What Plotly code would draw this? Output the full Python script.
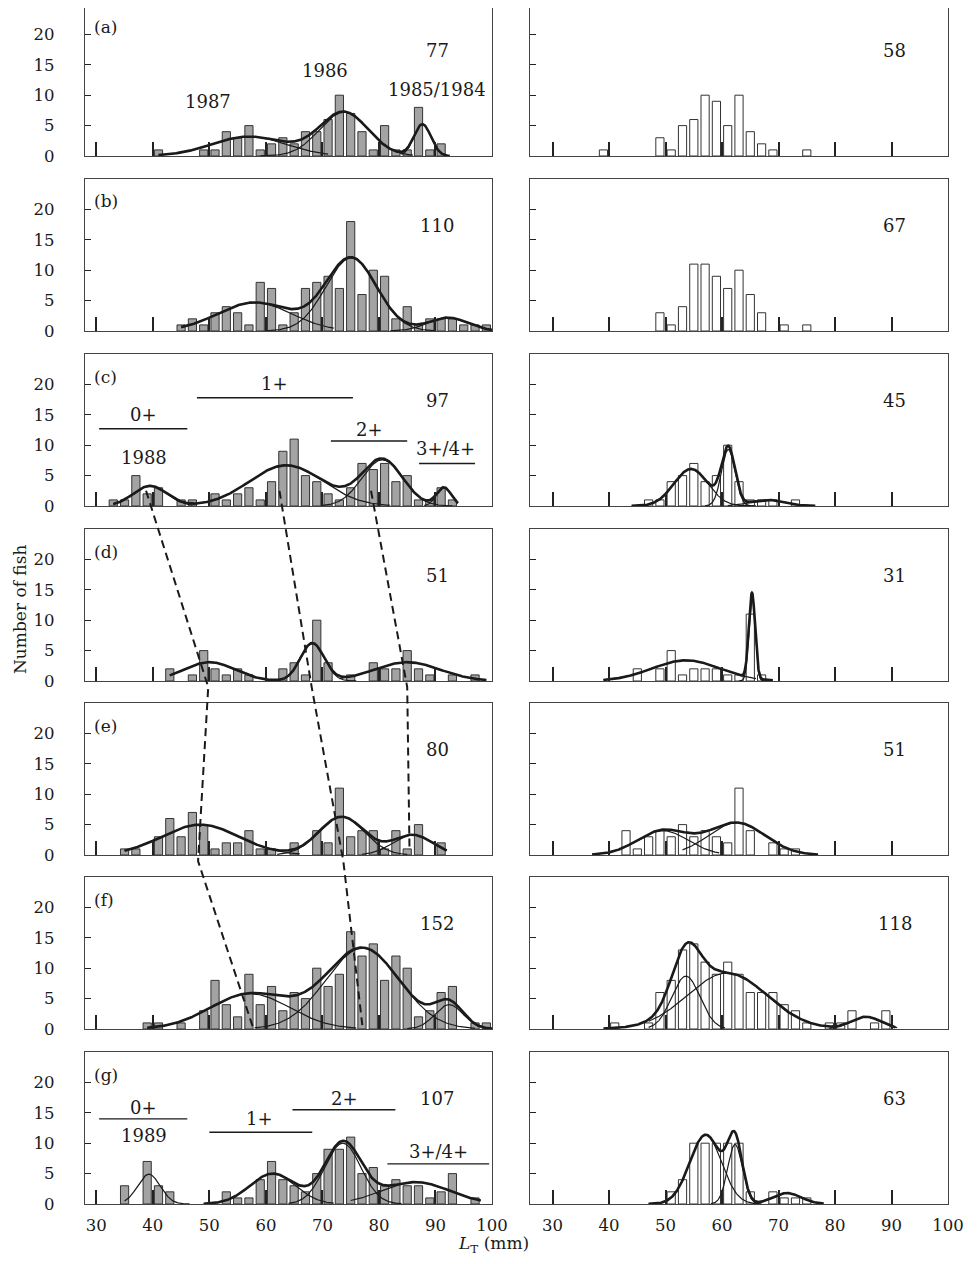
import numpy as np
import plotly.graph_objects as go

# page: the browser adds an 8px body margin, so the figure is sized to fit 980x1264
PAGE_W, PAGE_H, PAGE_PAD = 980, 1264, 8
W, H = PAGE_W - PAGE_PAD, PAGE_H - PAGE_PAD

# ---------------- data ----------------
BINS = [33, 35, 37, 39, 41, 43, 45, 47, 49, 51, 53, 55, 57, 59, 61, 63, 65,
        67, 69, 71, 73, 75, 77, 79, 81, 83, 85, 87, 89, 91, 93, 95, 97, 99]

# left column (grey bars)
cnt_a_L = [0, 0, 0, 0, 1, 0, 0, 0, 1, 1, 4, 3, 5, 1, 2, 3, 2, 4, 4, 6, 10, 7, 4, 1, 5, 1, 1, 8, 1, 2, 0, 0, 0, 0]
cnt_b_L = [0, 0, 0, 0, 0, 0, 1, 2, 1, 3, 4, 3, 1, 8, 7, 1, 3, 7, 8, 9, 7, 18, 6, 10, 9, 2, 4, 1, 2, 2, 2, 1, 1, 1]
cnt_c_L = [1, 1, 5, 2, 3, 0, 1, 1, 0, 2, 1, 2, 3, 1, 4, 9, 11, 5, 4, 2, 1, 3, 7, 6, 7, 4, 5, 1, 1, 3, 1, 0, 0, 0]
cnt_d_L = [0, 0, 0, 0, 0, 2, 0, 1, 5, 2, 1, 2, 1, 0, 0, 2, 3, 1, 10, 3, 0, 1, 0, 3, 2, 2, 5, 2, 1, 0, 1, 0, 1, 0]
cnt_e_L = [0, 1, 1, 0, 3, 6, 3, 7, 5, 1, 2, 2, 4, 1, 1, 0, 2, 0, 4, 2, 11, 3, 4, 4, 1, 4, 1, 5, 0, 2, 0, 0, 0, 0]
cnt_f_L = [0, 0, 0, 1, 1, 0, 1, 0, 3, 8, 4, 2, 9, 4, 7, 3, 6, 5, 10, 7, 9, 16, 12, 14, 8, 12, 10, 2, 3, 6, 7, 0, 1, 1]
cnt_g_L = [0, 3, 0, 7, 3, 2, 0, 0, 0, 0, 2, 1, 1, 4, 7, 4, 3, 2, 5, 9, 9, 11, 5, 6, 3, 4, 3, 3, 1, 2, 5, 0, 1, 0]

# right column (white bars)
cnt_a_R = [0, 0, 0, 1, 0, 0, 0, 0, 3, 1, 5, 6, 10, 9, 5, 10, 4, 2, 1, 0, 0, 1, 0, 0, 0, 0, 0, 0, 0, 0, 0, 0, 0, 0]
cnt_b_R = [0, 0, 0, 0, 0, 0, 0, 0, 3, 1, 4, 11, 11, 9, 7, 10, 6, 3, 0, 1, 0, 1, 0, 0, 0, 0, 0, 0, 0, 0, 0, 0, 0, 0]
cnt_c_R = [0, 0, 0, 0, 0, 0, 0, 1, 1, 4, 5, 7, 4, 5, 10, 4, 1, 1, 1, 0, 1, 0, 0, 0, 0, 0, 0, 0, 0, 0, 0, 0, 0, 0]
cnt_d_R = [0, 0, 0, 0, 0, 0, 2, 0, 2, 5, 1, 2, 2, 2, 1, 1, 11, 1, 0, 0, 0, 0, 0, 0, 0, 0, 0, 0, 0, 0, 0, 0, 0, 0]
cnt_e_R = [0, 0, 0, 0, 0, 4, 1, 3, 4, 3, 5, 3, 4, 3, 2, 11, 4, 0, 2, 1, 1, 0, 0, 0, 0, 0, 0, 0, 0, 0, 0, 0, 0, 0]
cnt_f_R = [0, 0, 0, 0, 1, 0, 0, 1, 6, 8, 13, 14, 11, 9, 11, 9, 6, 6, 6, 4, 3, 1, 0, 1, 1, 3, 0, 1, 3, 0, 0, 0, 0, 0]
cnt_g_R = [0, 0, 0, 0, 0, 0, 0, 0, 0, 2, 4, 10, 10, 10, 10, 10, 2, 0, 2, 1, 1, 1, 0, 0, 0, 0, 0, 0, 0, 0, 0, 0, 0, 0]

# fitted normal components: (mean mm, sd mm, peak count, drawn from, drawn to)
fit_a_L = [(57.0, 6.5, 3.2, 42, 71), (73.8, 4.3, 7.2, 59, 86), (87.7, 1.5, 5.2, 84, 92.5)]
fit_b_L = [(58.0, 6.5, 4.7, 45, 72), (75.1, 4.5, 12.0, 60, 90), (92.2, 3.5, 2.2, 82, 100)]
fit_c_L = [(39.5, 3.0, 3.3, 33, 47), (63.6, 6.5, 6.7, 47, 82), (80.6, 3.6, 7.6, 70, 93), (91.5, 1.3, 3.0, 88, 94)]
fit_d_L = [(50.0, 4.5, 3.1, 43, 60), (68.2, 2.1, 6.2, 61, 76), (85.0, 5.8, 3.1, 73, 99)]
fit_e_L = [(48.4, 6.8, 5.0, 35, 66), (73.4, 4.0, 6.3, 62, 85), (86.0, 3.5, 3.3, 77, 92)]
fit_f_L = [(57.2, 7.0, 5.8, 40, 76), (77.1, 6.5, 13.3, 58, 97), (92.4, 2.5, 4.0, 85, 100)]
fit_g_L = [(39.3, 2.0, 4.9, 35, 46.5), (61.2, 4.0, 5.0, 49, 72), (73.6, 3.2, 10.0, 64, 84), (86.5, 6.0, 3.6, 75, 98)]
fit_c_R = [(54.5, 3.0, 6.1, 44, 66), (61.1, 1.2, 9.3, 57, 66), (68.0, 3.0, 1.0, 61, 76)]
fit_d_R = [(53.6, 6.0, 3.4, 39, 66), (65.3, 0.55, 14.0, 63, 69)]
fit_e_R = [(49.5, 4.5, 4.0, 37, 59.5), (62.6, 5.0, 5.3, 53, 77)]
fit_f_R = [(53.6, 2.5, 8.7, 47, 60.5), (60.9, 7.0, 9.2, 47, 80), (85.5, 2.6, 2.0, 79, 91)]
fit_g_R = [(57.1, 2.8, 11.4, 47, 67), (62.3, 1.3, 9.8, 58, 66), (71.5, 2.5, 1.8, 66, 77)]

# extent of the summed (mixture) curve
tot_a_L = (41, 92.5)
tot_b_L = (45, 100)
tot_c_L = (33, 94)
tot_d_L = (43, 99)
tot_e_L = (35, 92)
tot_f_L = (39, 100)
tot_g_L = (49, 98)
tot_c_R = (44, 76.5)
tot_d_R = (39, 69)
tot_e_R = (37, 77)
tot_f_R = (39, 90.7)
tot_g_R = (47, 78)

N_LEFT = ["77", "110", "97", "51", "80", "152", "107"]
N_RIGHT = ["58", "67", "45", "31", "51", "118", "63"]
PANEL_LETTERS = ["(a)", "(b)", "(c)", "(d)", "(e)", "(f)", "(g)"]
X_TICKS = [30, 40, 50, 60, 70, 80, 90, 100]
Y_TICKS = [0, 5, 10, 15, 20]

LEFT_COUNTS = [cnt_a_L, cnt_b_L, cnt_c_L, cnt_d_L, cnt_e_L, cnt_f_L, cnt_g_L]
RIGHT_COUNTS = [cnt_a_R, cnt_b_R, cnt_c_R, cnt_d_R, cnt_e_R, cnt_f_R, cnt_g_R]
LEFT_FITS = [(fit_a_L, tot_a_L), (fit_b_L, tot_b_L), (fit_c_L, tot_c_L), (fit_d_L, tot_d_L),
             (fit_e_L, tot_e_L), (fit_f_L, tot_f_L), (fit_g_L, tot_g_L)]
RIGHT_FITS = [None, None, (fit_c_R, tot_c_R), (fit_d_R, tot_d_R), (fit_e_R, tot_e_R),
              (fit_f_R, tot_f_R), (fit_g_R, tot_g_R)]

# ---------------- layout geometry (page pixels) ----------------
ROW_PX = [(4, 156), (179, 331), (354, 506), (529, 681), (703, 855), (877, 1029), (1052, 1204)]
COL_PX = [(85, 492), (530, 948)]
X_RANGE = [[28, 100], [26, 100]]
Y_FULL = 25.0

SERIF = "DejaVu Serif"
INK = "#1a1a1a"
ANN_SIZE = 18


def fx(px):
    return (px - PAGE_PAD) / W


def fy(py):
    return 1 - (py - PAGE_PAD) / H


def row_geom(r):
    """Visible top/bottom in page px and y-range keeping the same px-per-count."""
    top, bot = ROW_PX[r]
    vis_top = max(top, PAGE_PAD)
    ymax = Y_FULL * (bot - vis_top) / (bot - top)
    return vis_top, bot, ymax


fig = go.Figure()
layout = dict(width=W, height=H, margin=dict(l=0, r=0, t=0, b=0, autoexpand=False),
              paper_bgcolor="white", plot_bgcolor="white", showlegend=False,
              hovermode=False, font=dict(family=SERIF, size=16, color=INK))


def suffix(k):
    return "" if k == 1 else str(k)


def gauss(x, m, s, a):
    return a * np.exp(-0.5 * ((x - m) / s) ** 2)


for r in range(7):
    vtop, bot, ymax = row_geom(r)
    for c in range(2):
        k = r * 2 + c + 1
        sx = suffix(k)
        x0, x1 = COL_PX[c]
        layout["xaxis" + sx] = dict(
            domain=[fx(x0), fx(x1)], range=X_RANGE[c], anchor="y" + sx, automargin=False,
            tickvals=X_TICKS, showticklabels=(r == 6), ticks="inside", ticklen=14,
            tickwidth=1.5, tickcolor="#222", showline=True, mirror=True,
            linecolor="#444", linewidth=1.2, showgrid=False, zeroline=False,
            tickfont=dict(family=SERIF, size=16.5, color=INK), ticklabelstandoff=6)
        layout["yaxis" + sx] = dict(
            domain=[fy(bot), min(1.0, fy(vtop))], range=[0, ymax], anchor="x" + sx,
            automargin=False,
            tickvals=Y_TICKS, showticklabels=(c == 0), ticks="inside", ticklen=6,
            tickwidth=1.2, tickcolor="#222", showline=True, mirror=True,
            linecolor="#444", linewidth=1.2, showgrid=False, zeroline=False,
            tickfont=dict(family=SERIF, size=16.5, color=INK), ticklabelstandoff=26)

        counts = LEFT_COUNTS[r] if c == 0 else RIGHT_COUNTS[r]
        bx = [b for b, v in zip(BINS, counts) if v > 0]
        by = [v for v in counts if v > 0]
        fig.add_trace(go.Bar(
            x=bx, y=by, width=1.45, xaxis="x" + sx, yaxis="y" + sx,
            marker=dict(color="#a3a3a3" if c == 0 else "white",
                        line=dict(color="#333", width=1))))

        fits = LEFT_FITS[r] if c == 0 else RIGHT_FITS[r]
        if fits is None:
            continue
        comps, tot = fits
        for (m, s, a, lo, hi) in comps:
            xs = np.linspace(lo, hi, 300)
            fig.add_trace(go.Scatter(x=xs, y=gauss(xs, m, s, a), mode="lines",
                                     xaxis="x" + sx, yaxis="y" + sx,
                                     line=dict(color=INK, width=1.2)))
        xs = np.linspace(tot[0], tot[1], 600)
        ys = sum(gauss(xs, m, s, a) for (m, s, a, lo, hi) in comps)
        fig.add_trace(go.Scatter(x=xs, y=ys, mode="lines", xaxis="x" + sx, yaxis="y" + sx,
                                 line=dict(color=INK, width=2.6)))

annotations = []
shapes = []


def txt(k, x, y, text, size=ANN_SIZE, xanchor="center"):
    sx = suffix(k)
    annotations.append(dict(xref="x" + sx, yref="y" + sx, x=x, y=y, text=text,
                            showarrow=False, xanchor=xanchor, yanchor="middle",
                            font=dict(family=SERIF, size=size, color=INK)))


def hline(k, xa, xb, y):
    sx = suffix(k)
    shapes.append(dict(type="line", xref="x" + sx, yref="y" + sx, x0=xa, x1=xb, y0=y, y1=y,
                       line=dict(color=INK, width=1.4)))


for r in range(7):
    kL = r * 2 + 1
    kR = r * 2 + 2
    txt(kL, 29.3, 21.3, PANEL_LETTERS[r], size=17, xanchor="left")
    txt(kL, 90.3, 17.3, N_LEFT[r])
    txt(kR, 90.6, 17.3, N_RIGHT[r])

# panel (a) cohort labels
txt(1, 49.8, 8.9, "1987")
txt(1, 70.4, 14.1, "1986")
txt(1, 90.3, 10.9, "1985/1984")

# panel (c) age-class labels
kc = 5
txt(kc, 38.3, 15.0, "0+")
hline(kc, 30.5, 46.1, 12.7)
txt(kc, 38.4, 7.9, "1988")
txt(kc, 61.6, 20.2, "1+")
hline(kc, 47.8, 75.4, 17.8)
txt(kc, 78.3, 12.6, "2+")
hline(kc, 71.5, 85.0, 10.7)
txt(kc, 91.8, 9.4, "3+/4+")
hline(kc, 87.1, 97.0, 7.0)

# panel (g) age-class labels
kg = 13
txt(kg, 38.3, 15.9, "0+")
hline(kg, 30.5, 46.1, 14.0)
txt(kg, 38.4, 11.3, "1989")
txt(kg, 58.9, 14.0, "1+")
hline(kg, 50.0, 68.2, 11.8)
txt(kg, 73.9, 17.4, "2+")
hline(kg, 64.7, 82.9, 15.5)
txt(kg, 90.6, 8.6, "3+/4+")
hline(kg, 81.5, 99.5, 6.6)

# dashed cohort-tracking lines: (row index, length mm, count level)
track_0 = [(2, 38.8, 2.5), (3, 49.8, -1.0), (4, 48.0, -1.0), (5, 57.7, 0.3)]
track_1 = [(2, 62.4, 2.5), (3, 68.1, -1.0), (4, 73.7, -1.0), (5, 77.1, 0.3)]
track_2 = [(2, 78.6, 2.5), (3, 85.0, -1.0), (4, 85.4, 1.3)]


def paper_y(row, val):
    top, bot = ROW_PX[row]
    return fy(bot - val / Y_FULL * (bot - top))


for tr in [track_0, track_1, track_2]:
    pts = [f"{x},{paper_y(row, v):.5f}" for (row, x, v) in tr]
    path = "M " + " L ".join(pts)
    shapes.append(dict(type="path", xref="x", yref="paper", path=path,
                       line=dict(color=INK, width=2, dash="8px,5px")))

# axis titles
annotations.append(dict(xref="paper", yref="paper", x=fx(20), y=fy(610),
                        text="Number of fish", textangle=-90, showarrow=False,
                        xanchor="center", yanchor="middle",
                        font=dict(family=SERIF, size=17, color=INK)))
annotations.append(dict(xref="paper", yref="paper", x=fx(493), y=fy(1244),
                        text="<i>L</i><sub>T</sub> (mm)", showarrow=False,
                        xanchor="center", yanchor="middle",
                        font=dict(family=SERIF, size=17, color=INK)))

layout["annotations"] = annotations
layout["shapes"] = shapes
fig.update_layout(**layout)
fig.write_html("out.html")
